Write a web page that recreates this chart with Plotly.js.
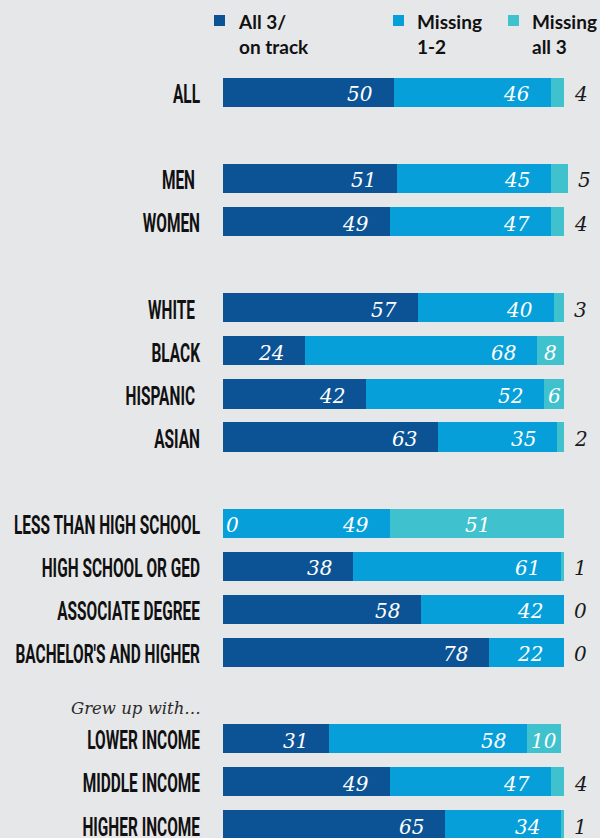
<!DOCTYPE html>
<html>
<head>
<meta charset="utf-8">
<script src="https://cdn.plot.ly/plotly-3.0.1.min.js"></script>
<style>
html,body{margin:0;padding:0;background:#e6e7e9;}
#chart{width:600px;height:838px;}
</style>
</head>
<body>
<div id="chart"></div>
<script>
// ---- data ----
const categories = ["ALL","MEN","WOMEN","WHITE","BLACK","HISPANIC","ASIAN",
  "LESS THAN HIGH SCHOOL","HIGH SCHOOL OR GED","ASSOCIATE DEGREE","BACHELOR'S AND HIGHER",
  "LOWER INCOME","MIDDLE INCOME","HIGHER INCOME"];
const rowPos = [0,2,3,5,6,7,8,10,11,12,13,15,16,17];
const onTrack   = [50,51,49,57,24,42,63, 0,38,58,78,31,49,65];
const missing12 = [46,45,47,40,68,52,35,49,61,42,22,58,47,34];
const missingAll= [ 4, 5, 4, 3, 8, 6, 2,51, 1, 0, 0,10, 4, 1];
const seriesNames = ["All 3/<br>on track","Missing<br>1-2","Missing<br>all 3"];
const groupNote = "Grew up with…";

// ---- styles ----
const colors = ["#0b5394","#069fd9","#40c1ce"];
const W = 600, H = 838, ML = 223, MT = 28, MB = 0;
const pxPerUnit = 3.413;
const xMax = (W - ML) / pxPerUnit;
const plotH = H - MT - MB;
const rowPx = 43.09;
const kTop = (MT - 92.3) / rowPx;
const kBot = kTop + plotH / rowPx;

const mk = (vals, i) => ({
  type: "bar", orientation: "h", x: vals, y: rowPos, width: 0.68,
  marker: {color: colors[i]}, hoverinfo: "skip", showlegend: false
});
const data = [mk(onTrack,0), mk(missing12,1), mk(missingAll,2)];

const numFont = {family: "DejaVu Serif", size: 20, color: "#ffffff", style: "italic"};
const outFont = {family: "DejaVu Serif", size: 20, color: "#1a1a1a", style: "italic"};
const annotations = [];
const YS = -2;
rowPos.forEach((k, i) => {
  const a = onTrack[i], b = missing12[i], c = missingAll[i];
  if (a > 0) {
    annotations.push({x: a, y: k, text: String(a), showarrow: false, xanchor: "right", xshift: -19, yshift: YS, font: numFont});
  } else {
    annotations.push({x: 0, y: k, text: String(a), showarrow: false, xanchor: "left", xshift: 1, yshift: YS, font: numFont});
  }
  annotations.push({x: a + b, y: k, text: String(b), showarrow: false, xanchor: "right", xshift: -19, yshift: YS, font: numFont});
  if (c >= 6) {
    annotations.push({x: a + b + c / 2, y: k, text: String(c), showarrow: false, xanchor: "center", yshift: YS, font: numFont});
  } else {
    annotations.push({x: a + b + c, y: k, text: String(c), showarrow: false, xanchor: "left", xshift: 8, yshift: YS, font: outFont});
  }
});

// legend (drawn as annotations + squares)
const px2x = px => (px - ML) / (W - ML);
const py2y = py => 1 - (py - MT) / plotH;
const legSq = [214, 393, 508];
const legTx = [236, 415, 530];
const shapes = [];
seriesNames.forEach((n, i) => {
  shapes.push({type: "rect", xref: "paper", yref: "paper",
    x0: px2x(legSq[i]), x1: px2x(legSq[i] + 11), y0: py2y(15), y1: py2y(26),
    fillcolor: colors[i], line: {width: 0}});
  annotations.push({xref: "paper", yref: "paper", x: px2x(legTx[i]), y: py2y(34),
    xanchor: "left", yanchor: "middle", align: "left", showarrow: false, text: n,
    font: {family: "Lato", size: 19, weight: 700, color: "#111111"}});
});
annotations.push({xref: "paper", yref: "y", x: px2x(203), y: 14.3, xanchor: "right", yanchor: "middle",
  showarrow: false, text: groupNote,
  font: {family: "DejaVu Serif", size: 16.5, style: "italic", color: "#2a2a2a"}});

const layout = {
  width: W, height: H,
  margin: {l: ML, r: 0, t: MT, b: MB, pad: 0},
  paper_bgcolor: "#e6e7e9", plot_bgcolor: "#e6e7e9",
  barmode: "stack", bargap: 0,
  xaxis: {range: [0, xMax], visible: false, fixedrange: true},
  yaxis: {range: [kBot, kTop], tickvals: rowPos, ticktext: categories,
    showgrid: false, zeroline: false, showline: false,
    ticks: "outside", ticklen: 17, tickcolor: "rgba(0,0,0,0)",
    ticklabeloverflow: "allow",
    tickfont: {family: "Roboto, Liberation Sans, sans-serif", size: 25, weight: 700, color: "#111111"},
    fixedrange: true},
  annotations: annotations,
  shapes: shapes
};
const trailingGap = {"MEN": 5, "WHITE": 5, "HISPANIC": 5};
Plotly.newPlot("chart", data, layout, {displayModeBar: false, staticPlot: true}).then(gd => {
  // condense the category labels horizontally (reference uses a condensed face)
  const texts = Array.from(gd.querySelectorAll(".ytick text"));
  const refT = texts.find(t => t.textContent === "LESS THAN HIGH SCHOOL");
  const f = refT ? 186 / refT.getComputedTextLength() : 0.7;
  texts.forEach(t => {
    const w = t.getComputedTextLength();
    t.setAttribute("textLength", (w * f).toFixed(2));
    t.setAttribute("lengthAdjust", "spacingAndGlyphs");
    const g = trailingGap[t.textContent] || 0;
    t.setAttribute("transform", (t.getAttribute("transform") || "") + " translate(" + (-g) + ",2)");
  });
});
</script>
</body>
</html>
